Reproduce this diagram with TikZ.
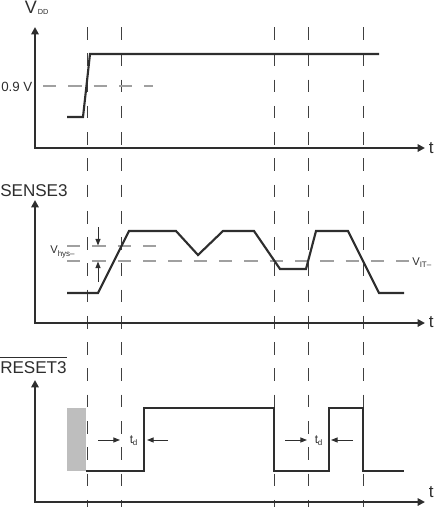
\documentclass[tikz,border=0pt]{standalone}
\usepackage{fontspec}
\setmainfont{Liberation Sans}
\usetikzlibrary{arrows.meta}
\definecolor{sigc}{HTML}{2E2E2E}
\definecolor{vdc}{HTML}{404040}
\definecolor{hdc}{HTML}{A0A0A0}
\definecolor{blk}{HTML}{BEBEBE}
\begin{document}
\begin{tikzpicture}[x=0.75pt,y=-0.75pt,
  sig/.style={line width=1.6pt,color=sigc,line join=miter},
  axisline/.style={line width=1.6pt,color=sigc,{Triangle[length=5.5pt,width=5.5pt]}-{Triangle[length=5.5pt,width=5.5pt]}},
  vdash/.style={line width=0.75pt,color=vdc,dash pattern=on 9.5pt off 10.2pt},
  hdash/.style={line width=1pt,color=hdc,dash pattern=on 10pt off 9pt},
  dimarrow/.style={line width=0.75pt,color=sigc,-{Triangle[length=5pt,width=3.8pt]}},
  lbl/.style={inner sep=0pt,anchor=base west,text=sigc},
  big/.style={lbl,font=\fontsize{12.8}{14}\selectfont},
  mid/.style={lbl,font=\fontsize{10}{12}\selectfont},
  small/.style={lbl,font=\fontsize{8.4}{10}\selectfont},
  tiny/.style={lbl,font=\fontsize{6}{7}\selectfont}]
\useasboundingbox (0,0) rectangle (436,507);

% axes coordinates
\coordinate (ay1) at (35,27);  \coordinate (o1) at (35,148); \coordinate (ax1) at (425,148);
\coordinate (ay2) at (35,200); \coordinate (o2) at (35,323); \coordinate (ax2) at (425,323);
\coordinate (ay3) at (35,380); \coordinate (o3) at (35,502); \coordinate (ax3) at (425,502);

% vertical dashed lines
\foreach \xx/\nm in {87/va,121/vb,274/vc,308/vd,363/ve}{
  \coordinate (\nm t) at (\xx,27);
  \coordinate (\nm b) at (\xx,507);
  \draw[vdash] (\nm t) -- (\nm b);
}

% horizontal dashed lines
\coordinate (h09a) at (43,86);  \coordinate (h09b) at (153,86);
\coordinate (hya) at (67,246);  \coordinate (hyb) at (157,246);
\coordinate (hia) at (67,261);  \coordinate (hib) at (409,261);
\draw[hdash] (h09a) -- (h09b);
\draw[hdash] (hya) -- (hyb);
\draw[hdash] (hia) -- (hib);

% gray block
\fill[blk] (67,408) rectangle (86,471);

% axes
\draw[axisline] (ay1) -- (o1) -- (ax1);
\draw[axisline] (ay2) -- (o2) -- (ax2);
\draw[axisline] (ay3) -- (o3) -- (ax3);

% signals
\draw[sig] (67,117) -- (83,117) -- (90,54) -- (379,54);
\draw[sig] (67,293) -- (98,293) -- (129,231) -- (176,231) -- (198,255) -- (223,231)
  -- (254,231) -- (280,269) -- (306,269) -- (316,231) -- (348,231) -- (379,293) -- (404,293);
\draw[sig] (86,471) -- (144,471) -- (144,408) -- (274,408) -- (274,471) -- (329,471)
  -- (329,408) -- (363,408) -- (363,471) -- (404,471);

% labels
\node[lbl,font=\fontsize{13.5}{14}\selectfont] (vddV) at (24.5,13) {V};
\node[lbl,font=\fontsize{5.5}{6}\selectfont] (vddD) at (37.5,14) {DD};
\node[mid] (l09) at (1,91.5) {0.9 V};
\node[big] (ls3) at (0,196) {SENSE3};
\node[big] (lr3) at (0,373) {RESET3};
\draw[line width=0.75pt,color=sigc] ([yshift=2.8pt]lr3.north west) -- ([yshift=2.8pt]lr3.north east);
\node[big] (t1) at (428.5,153) {t};
\node[big] (t2) at (428.5,327.5) {t};
\node[big] (t3) at (428.5,497.5) {t};

% Vhys
\node[small] (vhV) at (50,253.5) {V};
\node[tiny] (vhs) at (57.5,256.5) {hys–};
\coordinate (hu0) at (98,227); \coordinate (hu1) at (98,245.5);
\coordinate (hd0) at (98,282); \coordinate (hd1) at (98,261.5);
\draw[dimarrow] (hu0) -- (hu1);
\draw[dimarrow] (hd0) -- (hd1);

% VIT-
\node[small] (vitV) at (412,265.5) {V};
\node[tiny] (vits) at (419.5,267.5) {IT–};

% td
\coordinate (ta0) at (98,440);  \coordinate (ta1) at (120,440);
\coordinate (tb0) at (168,440); \coordinate (tb1) at (147,440);
\coordinate (tc0) at (285,440); \coordinate (tc1) at (307,440);
\coordinate (td0) at (353,440); \coordinate (td1) at (331,440);
\draw[dimarrow] (ta0) -- (ta1);
\draw[dimarrow] (tb0) -- (tb1);
\draw[dimarrow] (tc0) -- (tc1);
\draw[dimarrow] (td0) -- (td1);
\node[lbl,font=\fontsize{9}{10}\selectfont] (td1t) at (129.5,443) {t};
\node[tiny] (td1d) at (132.5,445.5) {d};
\node[lbl,font=\fontsize{9}{10}\selectfont] (td2t) at (314.5,443) {t};
\node[tiny] (td2d) at (317.5,445.5) {d};
\end{tikzpicture}
\end{document}
